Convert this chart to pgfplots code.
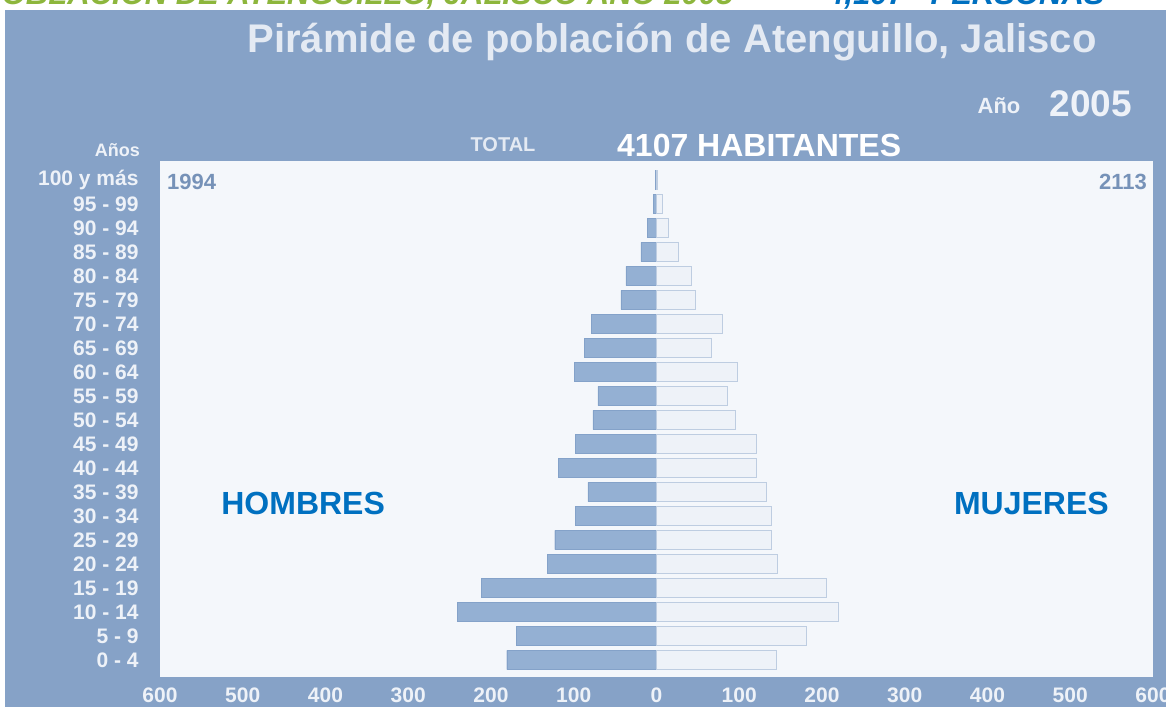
\documentclass[border=0pt]{standalone}
\usepackage{pgfplots}
\pgfplotsset{compat=1.18}
\usepackage{fontspec}
\setmainfont{Liberation Sans}
\definecolor{bgblue}{RGB}{134,162,199}
\definecolor{plotbg}{RGB}{244,247,251}
\definecolor{malefill}{RGB}{148,176,211}
\definecolor{maledraw}{RGB}{132,162,201}
\definecolor{femfill}{RGB}{238,242,248}
\definecolor{femdraw}{RGB}{190,205,225}
\definecolor{lbl}{RGB}{238,242,248}
\definecolor{titlec}{RGB}{228,234,243}
\definecolor{numc}{RGB}{118,146,184}
\definecolor{sexc}{RGB}{0,112,192}
\definecolor{topgreen}{RGB}{141,182,60}
\definecolor{topblue}{RGB}{0,112,192}
\definecolor{wmark}{RGB}{232,237,244}
\newcommand{\fs}[1]{\fontsize{#1bp}{#1bp}\selectfont}
\pgfplotstableread{
y male fem
0 -181 145
1 -169 181
2 -241 219
3 -212 205
4 -132 146
5 -123 139
6 -98 139
7 -83 133
8 -119 121
9 -98 120
10 -77 95
11 -71 85
12 -99 97
13 -87 66
14 -79 79
15 -43 47
16 -37 42
17 -19 26
18 -11 14
19 -4 7
20 -1 1
}\datatable
\begin{document}
\begin{tikzpicture}[x=1bp,y=1bp]
\useasboundingbox (0,0) rectangle (1166,707);
\fill[white] (0,0) rectangle (1166,707);
\fill[bgblue] (5,0) rectangle (1166,697);
% top cut-off strip
\node[anchor=base west, inner sep=0pt, text=topgreen, font=\fs{31}\bfseries\itshape] at (-19,702) {POBLACIÓN DE ATENGUILLO, JALISCO AÑO 2005};
\node[anchor=base west, inner sep=0pt, text=topblue, font=\fs{31}\bfseries\itshape] at (827,702) {4,107 \ \ PERSONAS};
% titles
\node[text=titlec, font=\fs{40}\bfseries, inner sep=0pt] at (672,665) {Pirámide de población de Atenguillo, Jalisco};
\node[text=lbl, font=\fs{22}\bfseries, inner sep=0pt] at (999,601) {Año};
\node[text=lbl, font=\fs{37}\bfseries, inner sep=0pt] at (1091,603) {2005};
\node[text=lbl, font=\fs{18}\bfseries, inner sep=0pt, anchor=east] at (140,557) {Años};
\node[text=titlec, font=\fs{20}\bfseries, inner sep=0pt] at (503,562) {TOTAL};
\node[text=white, font=\fs{32}\bfseries, inner sep=0pt, anchor=west] at (617,562) {4107 HABITANTES};
\begin{axis}[
  at={(160bp,30bp)}, anchor=south west,
  scale only axis, width=993bp, height=516bp,
  xmin=-600, xmax=600, ymin=-0.71, ymax=20.79,
  axis background/.style={fill=plotbg},
  axis line style={draw=none},
  tick style={draw=none},
  xbar, bar width=0.8, bar shift=0pt,
  xtick={-600,-500,...,600},
  xticklabels={600,500,400,300,200,100,0,100,200,300,400,500,600},
  ytick={0,...,20},
  yticklabels={0 - 4,5 - 9,10 - 14,15 - 19,20 - 24,25 - 29,30 - 34,35 - 39,40 - 44,45 - 49,50 - 54,55 - 59,60 - 64,65 - 69,70 - 74,75 - 79,80 - 84,85 - 89,90 - 94,95 - 99,100 y más},
  xticklabel style={inner sep=0pt, anchor=north, yshift=-11bp, text=lbl, font=\fs{21}\bfseries},
  yticklabel style={inner sep=0pt, anchor=east, xshift=-17bp, text=lbl, font=\fs{21}\bfseries},
  clip=false,
]
\addplot[fill=malefill, draw=maledraw] table[x=male, y=y] {\datatable};
\addplot[fill=femfill, draw=femdraw] table[x=fem, y=y] {\datatable};
\node[anchor=west, text=numc, font=\fs{22}\bfseries, inner sep=0pt] at (rel axis cs:0.007,0.96) {1994};
\node[anchor=east, text=numc, font=\fs{22}\bfseries, inner sep=0pt] at (rel axis cs:0.994,0.96) {2113};
\node[text=sexc, font=\fs{32}\bfseries, inner sep=0pt] at (axis cs:-427,6.54) {HOMBRES};
\node[text=sexc, font=\fs{32}\bfseries, inner sep=0pt] at (axis cs:453,6.54) {MUJERES};
\end{axis}
\end{tikzpicture}
\end{document}
